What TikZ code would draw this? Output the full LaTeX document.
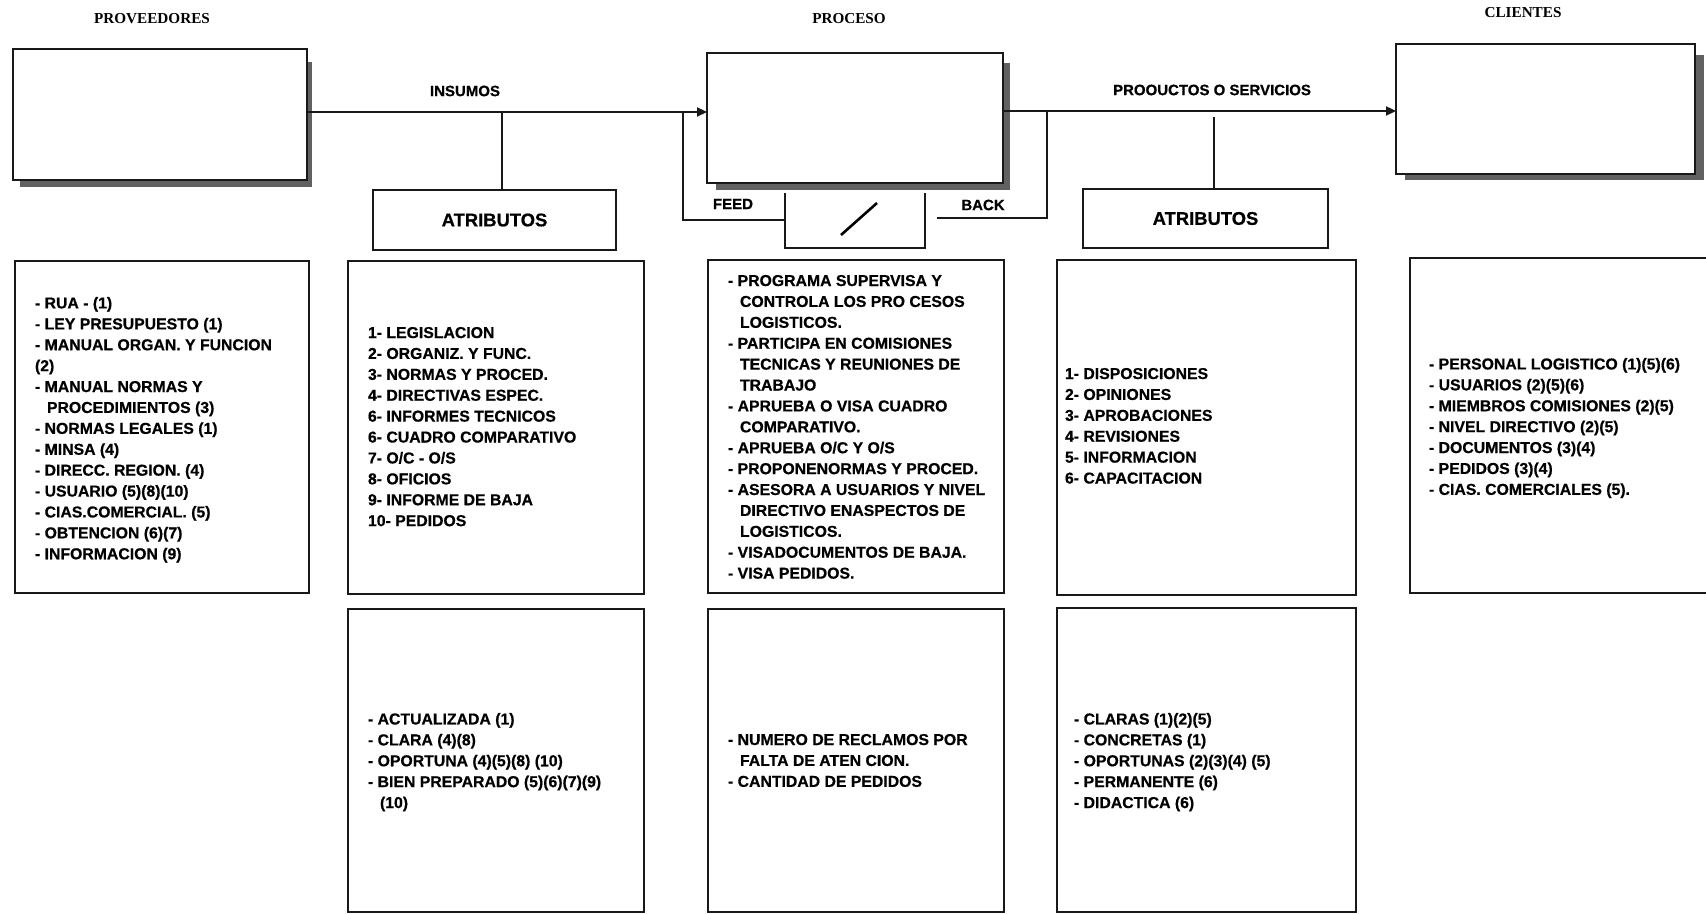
\documentclass[tikz,border=0pt]{standalone}
\usepackage{fontspec}
\setmainfont{Liberation Sans}[BoldFeatures={FakeBold=0.6}]
\newfontfamily\headserif{Liberation Serif}
\usetikzlibrary{arrows.meta,fit}

\begin{document}
\begin{tikzpicture}[x=0.5pt,y=-0.5pt,
  every node/.style={inner sep=0pt,outer sep=0pt},
  frame/.style={draw=black!90,line width=1.1pt,fill=white},
  dropshade/.style={fill=black!62},
  flow/.style={draw=black!90,line width=1.1pt},
  arr/.style={flow,-{Triangle[length=5pt,width=4.5pt]}},
  headlbl/.style={font=\headserif\bfseries\fontsize{7.6}{9}\selectfont},
  lbl/.style={font=\bfseries\fontsize{7.5}{9}\selectfont},
  attrlbl/.style={font=\bfseries\fontsize{9.2}{11}\selectfont},
  listtext/.style={font=\bfseries\fontsize{7.9}{10.45}\selectfont,align=left,anchor=north west}
]
\useasboundingbox (0,0) rectangle (1706,914);
\fill[white] (0,0) rectangle (1706,914);

% column headings
\node[headlbl] (hprov) at (152,19) {PROVEEDORES};
\node[headlbl] (hproc) at (849,19) {PROCESO};
\node[headlbl] (hcli)  at (1523,13) {CLIENTES};

% main boxes with drop shadows
\fill[dropshade] (20,62) rectangle (312,187);
\node[frame,fit={(13,49) (307,180)}] (prov) {};
\fill[dropshade] (716,63) rectangle (1010,190);
\node[frame,fit={(707,53) (1003,183)}] (proc) {};
\fill[dropshade] (1405,55) rectangle (1704,180);
\node[frame,fit={(1396,44) (1695,174)}] (clie) {};

% flow labels
\node[lbl] (ins)  at (465,91)  {INSUMOS};
\node[lbl] (prod) at (1212,90) {PROOUCTOS O SERVICIOS};
\node[lbl] (feed) at (733,204) {FEED};
\node[lbl] (back) at (983,205) {BACK};

% attribute boxes
\node[frame,fit={(373,190) (616,250)}] (atr1) {};
\node[attrlbl] (atr1t) at (atr1.center) {ATRIBUTOS};
\node[frame,fit={(1083,189) (1328,248)}] (atr2) {};
\node[attrlbl] (atr2t) at (atr2.center) {ATRIBUTOS};

% feedback control box (open at the top)
\node[fit={(785,193) (925,248)}] (fb) {};
\draw[flow] (fb.north west) |- (fb.south east) -- (fb.north east);
\draw[line width=1.3pt] (877,203) -- (841,235);

% junctions
\coordinate (jA) at (502,112);
\coordinate (jF) at (683,112);
\coordinate (fF) at (683,220);
\coordinate (jB) at (1047,111);
\coordinate (bB) at (1047,218);
\coordinate (bS) at (937,218);
\coordinate (jP) at (1214,117);

% connectors
\draw[arr]  (prov.east |- jA) -- (proc.west |- jA);
\draw[flow] (jA) -- (atr1.north -| jA);
\draw[flow] (jF) -- (fF) -- (fb.west |- fF);
\draw[flow] (bS) -- (bB) -- (jB);
\draw[arr]  (proc.east |- jB) -- (clie.west |- jB);
\draw[flow] (jP) -- (atr2.north -| jP);

% second row of boxes
\node[frame,fit={(15,261) (309,593)}]   (bA) {};
\node[frame,fit={(348,261) (644,594)}]  (bB1) {};
\node[frame,fit={(708,260) (1004,593)}] (bC) {};
\node[frame,fit={(1057,260) (1356,595)}] (bD) {};
\node[frame,fit={(1410,258) (1725,593)}] (bE) {};

% third row of boxes
\node[frame,fit={(348,609) (644,912)}]  (bB2) {};
\node[frame,fit={(708,609) (1004,912)}] (bC2) {};
\node[frame,fit={(1057,608) (1356,912)}] (bD2) {};

% box texts
\node[listtext] (tA) at (35,297) {- RUA - (1)\\
- LEY PRESUPUESTO (1)\\
- MANUAL ORGAN. Y FUNCION\\
(2)\\
- MANUAL NORMAS Y\\
\hspace*{6pt}PROCEDIMIENTOS (3)\\
- NORMAS LEGALES (1)\\
- MINSA (4)\\
- DIRECC. REGION. (4)\\
- USUARIO (5)(8)(10)\\
- CIAS.COMERCIAL. (5)\\
- OBTENCION (6)(7)\\
- INFORMACION (9)};

\node[listtext] (tB) at (368,327) {1- LEGISLACION\\
2- ORGANIZ. Y FUNC.\\
3- NORMAS Y PROCED.\\
4- DIRECTIVAS ESPEC.\\
6- INFORMES TECNICOS\\
6- CUADRO COMPARATIVO\\
7- O/C - O/S\\
8- OFICIOS\\
9- INFORME DE BAJA\\
10- PEDIDOS};

\node[listtext] (tC) at (728,275) {- PROGRAMA SUPERVISA Y\\
\hspace*{6pt}CONTROLA LOS PRO CESOS\\
\hspace*{6pt}LOGISTICOS.\\
- PARTICIPA EN COMISIONES\\
\hspace*{6pt}TECNICAS Y REUNIONES DE\\
\hspace*{6pt}TRABAJO\\
- APRUEBA O VISA CUADRO\\
\hspace*{6pt}COMPARATIVO.\\
- APRUEBA O/C Y O/S\\
- PROPONENORMAS Y PROCED.\\
- ASESORA A USUARIOS Y NIVEL\\
\hspace*{6pt}DIRECTIVO ENASPECTOS DE\\
\hspace*{6pt}LOGISTICOS.\\
- VISADOCUMENTOS DE BAJA.\\
- VISA PEDIDOS.};

\node[listtext] (tD) at (1065,368) {1- DISPOSICIONES\\
2- OPINIONES\\
3- APROBACIONES\\
4- REVISIONES\\
5- INFORMACION\\
6- CAPACITACION};

\node[listtext] (tE) at (1429,358) {- PERSONAL LOGISTICO (1)(5)(6)\\
- USUARIOS (2)(5)(6)\\
- MIEMBROS COMISIONES (2)(5)\\
- NIVEL DIRECTIVO (2)(5)\\
- DOCUMENTOS (3)(4)\\
- PEDIDOS (3)(4)\\
- CIAS. COMERCIALES (5).};

\node[listtext] (tB2) at (368,713) {- ACTUALIZADA (1)\\
- CLARA (4)(8)\\
- OPORTUNA (4)(5)(8) (10)\\
- BIEN PREPARADO (5)(6)(7)(9)\\
\hspace*{6pt}(10)};

\node[listtext] (tC2) at (728,734) {- NUMERO DE RECLAMOS POR\\
\hspace*{6pt}FALTA DE ATEN CION.\\
- CANTIDAD DE PEDIDOS};

\node[listtext] (tD2) at (1074,713) {- CLARAS (1)(2)(5)\\
- CONCRETAS (1)\\
- OPORTUNAS (2)(3)(4) (5)\\
- PERMANENTE (6)\\
- DIDACTICA (6)};
\end{tikzpicture}
\end{document}
